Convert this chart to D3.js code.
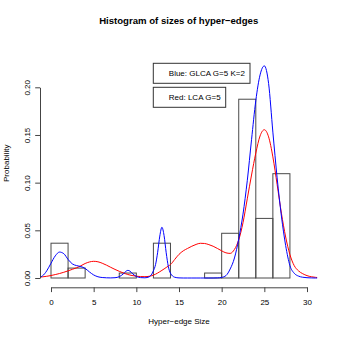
<!DOCTYPE html>
<html><head><meta charset="utf-8">
<script src="https://cdn.jsdelivr.net/npm/d3@7"></script>
<style>body{margin:0;background:#fff}svg{display:block}</style>
</head><body>
<svg id="c" width="338" height="338"></svg>
<script>
// ---- data ----
const binStart   = [0, 2, 8, 12, 18, 20, 22, 24, 26];
const binEnd     = [2, 4, 10, 14, 20, 22, 24, 26, 28];
const binDensity = [0.0365, 0.0104, 0.0052, 0.0365, 0.0052, 0.0469, 0.1875, 0.0625, 0.1094];

const curveX = [
  -1.3, -1.0, -0.5, 0, 0.5, 1, 1.5, 2, 2.5, 3,
  3.5, 4, 4.5, 5, 5.5, 6, 6.5, 7, 7.5, 8,
  8.5, 8.75, 9, 9.25, 9.5, 10, 10.5, 11, 11.5, 12,
  12.25, 12.5, 12.75, 13, 13.25, 13.5, 13.75, 14, 14.5, 15,
  15.5, 16, 16.5, 17, 17.5, 18, 18.5, 19, 19.5, 20,
  20.5, 21, 21.5, 22, 22.5, 23, 23.5, 24, 24.5, 25,
  25.5, 26, 26.5, 27, 27.5, 28, 28.5, 29, 29.5, 30,
  30.5, 31, 31.2
];
const blueDensity = [
  0.0008, 0.0022, 0.0075, 0.0155, 0.0232, 0.0272, 0.0255, 0.0195, 0.0148, 0.0130,
  0.0120, 0.0100, 0.0064, 0.0032, 0.0013, 0.0005, 0.0002, 0.0001, 0.0003, 0.0014,
  0.0045, 0.0068, 0.0080, 0.0072, 0.0050, 0.0016, 0.0004, 0.0002, 0.0012, 0.0075,
  0.0140, 0.0270, 0.0440, 0.0532, 0.0445, 0.0265, 0.0120, 0.0050, 0.0008, 0.0001,
  0, 0, 0, 0, 0, 0, 0, 0, 0.0001, 0.0006,
  0.0025, 0.0095, 0.0210, 0.0410, 0.0670, 0.1020, 0.1450, 0.1860, 0.2130, 0.2225,
  0.2040, 0.1530, 0.1050, 0.0650, 0.0340, 0.0130, 0.0050, 0.0020, 0.0008, 0.0003,
  0.0001, 0, 0
];
const redDensity = [
  0.0009, 0.0012, 0.0018, 0.0026, 0.0036, 0.0047, 0.0060, 0.0075, 0.0091, 0.0107,
  0.0128, 0.0152, 0.0168, 0.0175, 0.0170, 0.0155, 0.0135, 0.0112, 0.0090, 0.0070,
  0.0052, 0.0044, 0.0037, 0.0031, 0.0026, 0.0019, 0.0015, 0.0014, 0.0018, 0.0030,
  0.0040, 0.0052, 0.0066, 0.0080, 0.0095, 0.0110, 0.0125, 0.0140, 0.0195, 0.0248,
  0.0285, 0.0310, 0.0333, 0.0352, 0.0364, 0.0362, 0.0350, 0.0333, 0.0310, 0.0285,
  0.0264, 0.0258, 0.0300, 0.0400, 0.0580, 0.0830, 0.1080, 0.1310, 0.1490, 0.1555,
  0.1480, 0.1270, 0.0980, 0.0680, 0.0430, 0.0245, 0.0130, 0.0075, 0.0045, 0.0025,
  0.0013, 0.0007, 0.0005
];

const xTicks = [0, 5, 10, 15, 20, 25, 30];
const yTicks = [0, 0.05, 0.10, 0.15, 0.20];
const titleText = "Histogram of sizes of hyper\u2212edges";
const xLabelText = "Hyper\u2212edge Size";
const yLabelText = "Probability";
const legendLabels = ["Blue: GLCA G=5 K=2", "Red: LCA G=5"];

// ---- drawing ----
const FONT = "'Liberation Sans', Arial, Helvetica, sans-serif";
const svg = d3.select("#c");
svg.append("rect").attr("width", 338).attr("height", 338).attr("fill", "#fff");

const x = d3.scaleLinear().domain([0, 30]).range([51, 307]);
const y = d3.scaleLinear().domain([0, 0.2]).range([278, 87.3]);

const plotL = 40, plotR = 317.5, plotT = 48, plotB = 287;
svg.append("defs").append("clipPath").attr("id", "clip")
  .append("rect").attr("x", plotL).attr("y", plotT)
  .attr("width", plotR - plotL).attr("height", plotB - plotT);

// histogram bars
const bars = binStart.map((s, i) => ({s, e: binEnd[i], d: binDensity[i]}));
svg.append("g").selectAll("rect").data(bars).join("rect")
  .attr("x", d => x(d.s)).attr("width", d => x(d.e) - x(d.s))
  .attr("y", d => y(d.d)).attr("height", d => y(0) - y(d.d))
  .attr("fill", "none").attr("stroke", "#4a4a4a").attr("stroke-width", 1);

// density curves
const pts = (arr) => curveX.map((v, i) => [v, arr[i]]);
const line = d3.line().x(d => x(d[0])).y(d => y(d[1])).curve(d3.curveMonotoneX);
const cg = svg.append("g").attr("clip-path", "url(#clip)");
cg.append("path").attr("d", line(pts(redDensity)))
  .attr("fill", "none").attr("stroke", "#ff0000").attr("stroke-width", 1);
cg.append("path").attr("d", line(pts(blueDensity)))
  .attr("fill", "none").attr("stroke", "#0000ff").attr("stroke-width", 1);

// axes
const xAxis = svg.append("g").attr("transform", "translate(0,287.3)")
  .call(d3.axisBottom(x).tickValues(xTicks).tickSizeInner(4.8).tickSizeOuter(0).tickPadding(9)
    .tickFormat(d3.format("d")));
xAxis.selectAll("path,line").attr("stroke", "#444");
xAxis.selectAll("text").attr("font-family", FONT).attr("font-size", 8).attr("fill", "#000")
  .attr("dy", null).attr("y", 17.7);

const yAxis = svg.append("g").attr("transform", "translate(40,0)")
  .call(d3.axisLeft(y).tickValues(yTicks).tickSizeInner(4.8).tickSizeOuter(0)
    .tickFormat(d3.format(".2f")));
yAxis.selectAll("path,line").attr("stroke", "#444");
yAxis.selectAll("text").attr("font-family", FONT).attr("font-size", 8).attr("fill", "#000")
  .attr("transform", "rotate(-90)").attr("text-anchor", "middle")
  .attr("x", 0).attr("y", -10.5).attr("dy", null);
yAxis.attr("font-size", null).attr("font-family", null);
xAxis.attr("font-size", null).attr("font-family", null);

// title and labels
svg.append("text").attr("x", 178.7).attr("y", 23.6).attr("text-anchor", "middle")
  .attr("font-family", FONT).attr("font-weight", "bold").attr("font-size", 9.6)
  .text(titleText);
svg.append("text").attr("x", 179).attr("y", 324.2).attr("text-anchor", "middle")
  .attr("font-family", FONT).attr("font-size", 8).text(xLabelText);
svg.append("text").attr("transform", "translate(9.3,163.3) rotate(-90)")
  .attr("text-anchor", "middle").attr("font-family", FONT).attr("font-size", 8)
  .text(yLabelText);

// legend boxes
const legBoxes = [
  {label: legendLabels[0], x: 153.3, y: 63.3, w: 96.7, h: 20},
  {label: legendLabels[1], x: 153.3, y: 87.3, w: 72.4, h: 20}
];
const lg = svg.append("g");
legBoxes.forEach(b => {
  lg.append("rect").attr("x", b.x).attr("y", b.y).attr("width", b.w).attr("height", b.h)
    .attr("fill", "none").attr("stroke", "#333").attr("stroke-width", 1);
  lg.append("text").attr("x", b.x + 15.5).attr("y", b.y + b.h / 2 + 2.9)
    .attr("font-family", FONT).attr("font-size", 8).text(b.label);
});
</script>
</body></html>
